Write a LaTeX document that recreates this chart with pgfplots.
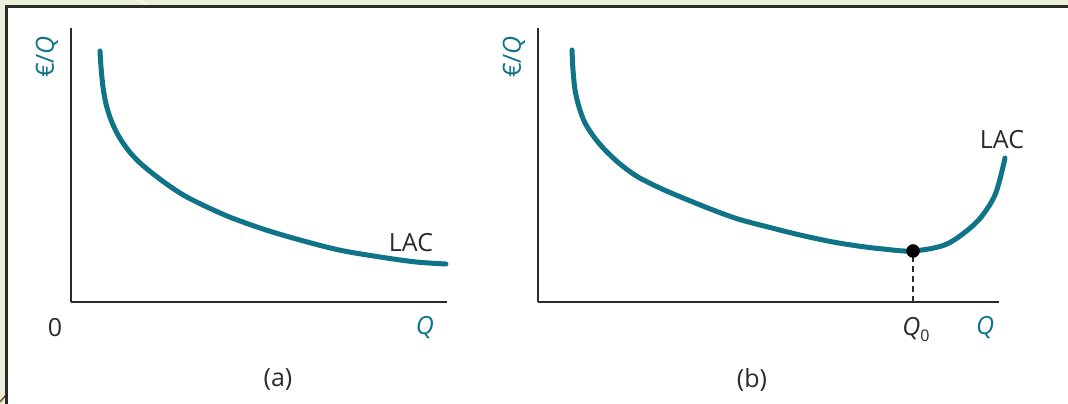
\documentclass[border=0pt]{standalone}
\usepackage{pgfplots}
\pgfplotsset{compat=1.18}
\usepackage{fontspec}
\setmainfont{Open Sans}
\definecolor{lac}{HTML}{0F7488}
\definecolor{ink}{HTML}{2B2B2B}
\definecolor{slide}{HTML}{E9EFD9}

\begin{document}
\begin{tikzpicture}[x=1pt,y=1pt]
\useasboundingbox (0,0) rectangle (1068,404);
% slide background and white panel
\fill[slide] (0,0) rectangle (1068,404);
\draw[white!80!slide, line width=1pt] (138,404) -- (158,394);
\draw[brown!60!black, line width=1.5pt] (0,2) -- (6,9);
\fill[white] (7,0) rectangle (1068,397);
\draw[ink, line width=2.5pt] (6.5,0) -- (6.5,397.5) -- (1068,397.5);

\pgfplotsset{cost/.style={
  scale only axis, anchor=south west,
  axis x line=bottom, axis y line=left,
  axis line style={-, ink, line width=1.8pt},
  xtick=\empty, ytick=\empty,
  ymin=0, ymax=274, height=274pt, clip=false}}

% (a) long-run average cost falling throughout
\begin{axis}[cost, at={(71pt,102pt)}, width=376pt, xmin=0, xmax=376]
\addplot[lac, line width=5pt, smooth, line cap=round] coordinates {
 (29,251) (30,235) (32,215) (35,198) (40,182) (47,167) (57,152) (68,140)
 (81,129) (97,117) (114,106) (136,95) (161,84) (195,72) (229,62) (268,52)
 (309,45) (345,40) (375,38)};
\end{axis}

% (b) U-shaped long-run average cost with minimum at Q0
\begin{axis}[cost, at={(538pt,102pt)}, width=461pt, xmin=0, xmax=461]
\addplot[ink, line width=1.8pt, dash pattern=on 6pt off 4pt] coordinates {(375,0) (375,51)};
\addplot[lac, line width=5pt, smooth, line cap=round] coordinates {
 (34,252) (35,232) (37,212) (41,195) (47,179) (56,165) (67,152) (82,138)
 (100,125) (124,113) (150,102) (175,92) (200,83) (230,75) (262,67) (295,60)
 (320,56) (345,53) (375,51) (409,58) (438.7,80) (457,107) (467,144)};
\addplot[only marks, mark=*, mark size=6.5pt, black] coordinates {(375,51)};
\end{axis}

% labels
\begin{scope}[every node/.style={font=\fontsize{25}{28}\selectfont}]
\node[rotate=90, text=lac] at (47,347) {€/\textit{Q}};
\node[rotate=90, text=lac] at (514,347) {€/\textit{Q}};
\node[text=ink] at (55,76) {0};
\node[text=lac] at (425,76) {\textit{Q}};
\node[text=ink] at (411,161) {LAC};
\node[text=ink] at (1002,264) {LAC};
\node[text=ink] at (916,74) {\textit{Q}\raisebox{-0.45ex}{\fontsize{16}{18}\selectfont 0}};
\node[text=lac] at (985,76) {\textit{Q}};
\node[text=ink] at (278,24) {(a)};
\node[text=ink] at (752,24) {(b)};
\end{scope}
\end{tikzpicture}
\end{document}
